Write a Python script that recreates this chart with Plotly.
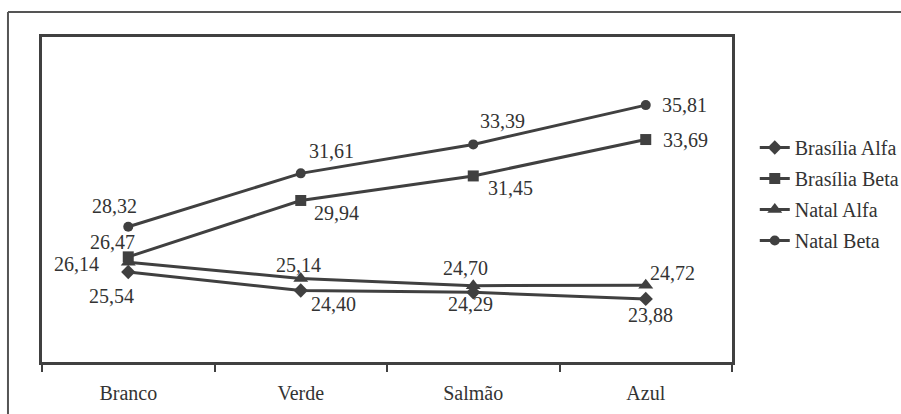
import plotly.graph_objects as go

categories = ["Branco", "Verde", "Salmão", "Azul"]
brasilia_alfa = [25.54, 24.40, 24.29, 23.88]
brasilia_beta = [26.47, 29.94, 31.45, 33.69]
natal_alfa = [26.14, 25.14, 24.70, 24.72]
natal_beta = [28.32, 31.61, 33.39, 35.81]

series = [
    ("Brasília Alfa", brasilia_alfa, "diamond", 11, [(-17, -24), (33, -13), (-3, -12), (5, -16)]),
    ("Brasília Beta", brasilia_beta, "square", 11, [(-16, 15), (36, -13), (37, -12), (40, 0)]),
    ("Natal Alfa", natal_alfa, "triangle-up", 13, [(-52, -2), (-2, 13), (-8, 18), (27, 12)]),
    ("Natal Beta", natal_beta, "circle", 10, [(-14, 21), (31, 22), (29, 23), (39, 0)]),
]

INK = "#404040"
FONT = "Liberation Serif"
TXT = "#333333"

def fmt(v):
    return f"{v:.2f}".replace(".", ",")

fig = go.Figure()
annotations = []
for name, vals, sym, size, offs in series:
    fig.add_trace(go.Scatter(
        x=categories, y=vals, name=name, mode="lines+markers", legendgroup=name,
        line=dict(color=INK, width=3),
        marker=dict(symbol=sym, size=size, color=INK),
    ))
    for c, v, (dx, dy) in zip(categories, vals, offs):
        annotations.append(dict(
            x=c, y=v, xref="x", yref="y", text=fmt(v), showarrow=False,
            xshift=dx, yshift=dy, font=dict(family=FONT, size=20, color=TXT),
        ))

fig.update_layout(
    width=901, height=414,
    margin=dict(l=42, r=169, t=37, b=52, autoexpand=False),
    paper_bgcolor="white", plot_bgcolor="white",
    font=dict(family=FONT, size=20, color=TXT),
    showlegend=True,
    legend=dict(x=1.033, y=0.72, xanchor="left", yanchor="top",
                font=dict(family=FONT, size=20, color=TXT),
                tracegroupgap=2, itemwidth=30, bgcolor="rgba(0,0,0,0)"),
    annotations=annotations,
    shapes=[
        dict(type="line", xref="paper", yref="paper", x0=-0.0493, x1=-0.0493, y0=1.077, y1=-0.2,
             line=dict(color="#555555", width=2)),
        dict(type="line", xref="paper", yref="paper", x0=-0.0493, x1=1.3, y0=1.077, y1=1.077,
             line=dict(color="#555555", width=2)),
    ],
)
fig.update_xaxes(
    type="category", range=[-0.5, 3.5], showline=True, mirror=True, linecolor=INK, linewidth=3,
    ticks="outside", tickson="boundaries", ticklen=7, tickwidth=2, tickcolor=INK,
    showgrid=False, zeroline=False, ticklabelstandoff=11,
    tickfont=dict(family=FONT, size=20, color=TXT),
)
fig.update_yaxes(
    range=[20, 40], showline=True, mirror=True, linecolor=INK, linewidth=3,
    showticklabels=False, ticks="", showgrid=False, zeroline=False,
)
fig.write_html("out.html", config={"displayModeBar": False},
               post_script="document.body.style.margin='0';document.body.style.padding='0';"
                           "document.body.style.overflow='hidden';"
                           "document.documentElement.style.overflow='hidden';")
